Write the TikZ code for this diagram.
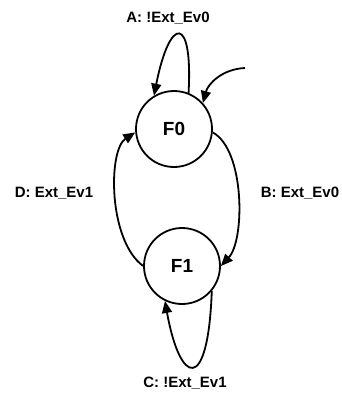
\documentclass[tikz,border=0pt]{standalone}
\usepackage{fontspec}
\setmainfont{Liberation Sans}
\usetikzlibrary{arrows.meta}

\begin{document}
\begin{tikzpicture}[x=1pt,y=-1pt,
  state/.style={circle,draw,line width=1.8pt,minimum size=76pt,inner sep=0pt,
    font=\bfseries\fontsize{19}{19}\selectfont},
  edge/.style={line width=1.8pt,-{Triangle[length=12pt,width=10pt]}},
  lbl/.style={font=\bfseries\fontsize{15}{15}\selectfont}]
\useasboundingbox (0,0) rectangle (342,394);
% states
\node[state] (F0) at (174,129) {F0};
\node[state] (F1) at (182,266) {F1};
% transition labels
\node[lbl] (la) at (168,18) {A: !Ext\_Ev0};
\node[lbl] (lb) at (300,193) {B: Ext\_Ev0};
\node[lbl] (lc) at (185,383) {C: !Ext\_Ev1};
\node[lbl] (ld) at (54,193) {D: Ext\_Ev1};
% initial arrow
\coordinate (init) at (245,68);
\draw[edge] (init) .. controls (222,69) and (208,84) .. (F0.42);
% transitions
\draw[edge] (F0.68) .. controls (193,15) and (170,15) .. (F0.121);
\draw[edge] (F0.-5) .. controls (245,150) and (245,240) .. (F1.0);
\draw[edge] (F1.-40) .. controls (208,395) and (180,385) .. (F1.244);
\draw[edge] (F1.180) .. controls (108,240) and (108,150) .. (F0.185);
\end{tikzpicture}
\end{document}
